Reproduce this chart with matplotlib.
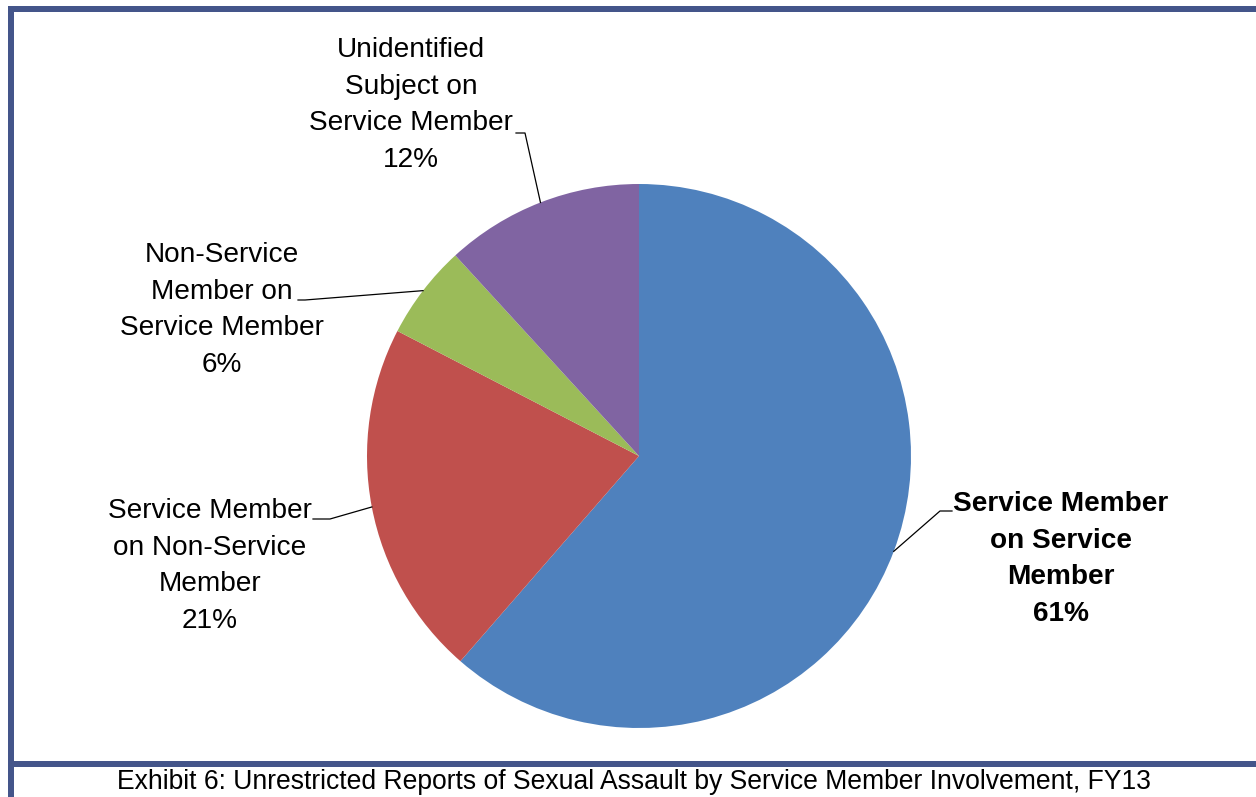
import matplotlib
matplotlib.use('Agg')
import matplotlib.pyplot as plt
from matplotlib.patches import Rectangle
import numpy as np

# valors (percentatges estimats a partir dels angles)
labels = ['Service Member\non Service\nMember',
          'Service Member\non Non-Service\nMember',
          'Non-Service\nMember on\nService Member',
          'Unidentified\nSubject on\nService Member']
values = [61.4, 21.2, 5.6, 11.8]
colors = ['#4F81BD', '#C0504D', '#9BBB59', '#8064A2']
caption = 'Exhibit 6: Unrestricted Reports of Sexual Assault by Service Member Involvement, FY13'

W, H = 1256, 797
fig = plt.figure(figsize=(W / 100, H / 100), dpi=100)
ax = fig.add_axes([0, 0, 1, 1])
plt.rcParams['font.family'] = ['Liberation Sans', 'DejaVu Sans']

cx, cy, r = 639, H - 456, 272
wedges, _ = ax.pie(values, colors=colors, startangle=90, counterclock=False,
                   center=(cx, cy), radius=r, frame=True)
ax.set_xlim(0, W)
ax.set_ylim(0, H)
ax.set_aspect('auto')
ax.axis('off')

# posicions de les etiquetes: (colze de la línia, final horitzontal, centre del text)
lay = [
    ((940, 511), (952, 511), (1061, 559), 'bold'),
    ((330, 519), (313, 519), (210, 566), 'normal'),
    ((305, 300), (298, 300), (222, 310), 'normal'),
    ((525, 133), (516, 133), (411, 105), 'normal'),
]
tot = sum(values)
for w, lab, v, (elb, end, tc, fw) in zip(wedges, labels, values, lay):
    ang = np.deg2rad((w.theta1 + w.theta2) / 2)
    ax0, ay0 = cx + r * np.cos(ang), cy + r * np.sin(ang)
    ax.plot([ax0, elb[0], end[0]], [ay0, H - elb[1], H - end[1]],
            color='black', lw=0.9)
    ax.text(tc[0], H - tc[1], lab + '\n%d%%' % round(v / tot * 100),
            ha='center', va='center', fontsize=20.2, fontweight=fw,
            linespacing=1.52, color='black')

# marc
border = '#44558A'
ax.add_patch(Rectangle((8, 0), 6, H - 6, color=border, lw=0))
ax.add_patch(Rectangle((8, H - 12), W - 8, 6, color=border, lw=0))
ax.add_patch(Rectangle((8, H - 767), W - 8, 6, color=border, lw=0))

ax.text(634, H - 782, caption, ha='center', va='center', fontsize=19.1, color='black')

fig.savefig('out.png', dpi=100)
